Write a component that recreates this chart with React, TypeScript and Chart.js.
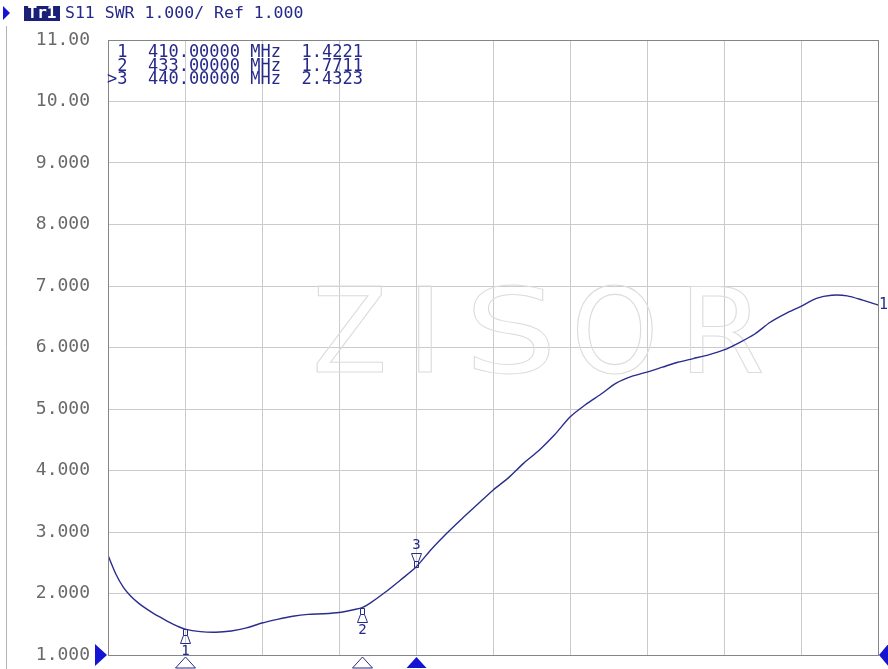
import React, { useEffect, useRef } from "react";
import { Chart, registerables } from "chart.js";

Chart.register(...registerables);

// ---- data ----
const freqMHz = [400,401,402,403,404,405,406,407,408,409,410,412,414,416,418,420,422,424,426,428,430,432,433,434,436,438,440,442,444,446,448,450,452,454,456,458,460,462,464,466,468,470,472,474,476,478,480,482,484,486,488,490,492,494,496,498,500];
const swrValues = [2.62,2.32,2.1,1.95,1.84,1.75,1.67,1.6,1.53,1.47,1.42,1.38,1.37,1.39,1.44,1.52,1.58,1.63,1.66,1.67,1.69,1.74,1.77,1.84,2.02,2.22,2.43,2.72,2.98,3.22,3.45,3.68,3.88,4.12,4.33,4.58,4.87,5.07,5.24,5.42,5.53,5.6,5.68,5.76,5.82,5.88,5.96,6.08,6.22,6.41,6.55,6.67,6.8,6.85,6.84,6.77,6.69];
const yTickValues = [1,2,3,4,5,6,7,8,9,10,11];
const yTickLabels = ["1.000","2.000","3.000","4.000","5.000","6.000","7.000","8.000","9.000","10.00","11.00"];
const markerIds = ["1","2","3"];
const markerFreq = [410, 433, 440];
const markerSwr = [1.4221, 1.7711, 2.4323];
const activeMarker = 2;
const headerTrace = "Tr1";
const headerText = "S11 SWR 1.000/ Ref 1.000";
const watermarkLetters = ["Z", "I", "S", "O", "R"];

const NAVY = "#26298a";
const BLUE = "#1414d2";
const MONO = '"DejaVu Sans Mono", "Liberation Mono", monospace';

// watermark letter boxes (pixel decoration, not data): left, right
const wmBoxes = [[317, 383], [418, 432], [473, 550], [577, 653], [690, 762]];

const decor = {
  id: "vnaDecor",
  beforeDatasetsDraw(chart: any) {
    const ctx = chart.ctx;
    ctx.save();
    ctx.font = '118px "DejaVu Sans"';
    ctx.strokeStyle = "#dcdcdc";
    ctx.textBaseline = "alphabetic";
    ctx.textAlign = "left";
    const base = 372;
    for (let i = 0; i < watermarkLetters.length; i++) {
      const m = ctx.measureText(watermarkLetters[i]);
      const inkL = -m.actualBoundingBoxLeft;
      const inkW = m.actualBoundingBoxRight + m.actualBoundingBoxLeft;
      const [l, r] = wmBoxes[i];
      const sx = (r - l) / inkW;
      ctx.save();
      ctx.translate(l, base);
      ctx.scale(sx, 1);
      ctx.lineWidth = 1.1 / sx;
      ctx.strokeText(watermarkLetters[i], -inkL, 0);
      ctx.restore();
    }
    ctx.restore();
  },
  afterDraw(chart: any) {
    const ctx = chart.ctx;
    const xs = chart.scales.x;
    const ys = chart.scales.y;
    const area = chart.chartArea;
    ctx.save();

    // outer frame line
    ctx.strokeStyle = "#b4b4b4";
    ctx.lineWidth = 1;
    ctx.beginPath();
    ctx.moveTo(6.5, 26);
    ctx.lineTo(6.5, 669);
    ctx.stroke();

    // plot frame
    ctx.strokeStyle = "#858585";
    ctx.strokeRect(area.left + 0.5, area.top + 0.5, area.right - area.left, area.bottom - area.top);

    // header
    ctx.fillStyle = BLUE;
    ctx.beginPath();
    ctx.moveTo(3, 6);
    ctx.lineTo(10, 13);
    ctx.lineTo(3, 20);
    ctx.closePath();
    ctx.fill();
    ctx.fillStyle = "#1a1f78";
    ctx.fillRect(24, 6, 36, 15);
    ctx.font = "bold 16px " + MONO;
    ctx.fillStyle = "#ffffff";
    ctx.textBaseline = "middle";
    ctx.textAlign = "center";
    ctx.fillText(headerTrace, 42, 14);
    ctx.textAlign = "left";
    ctx.font = "16.5px " + MONO;
    ctx.fillStyle = NAVY;
    ctx.fillText(headerText, 65, 14);

    // marker table
    ctx.font = "17px " + MONO;
    ctx.fillStyle = NAVY;
    for (let i = 0; i < markerIds.length; i++) {
      const prefix = i === activeMarker ? ">" : " ";
      const line = prefix + markerIds[i] + "  " + markerFreq[i].toFixed(5) + " MHz  " + markerSwr[i].toFixed(4);
      ctx.fillText(line, 107, 53 + i * 13.5);
    }

    // markers on trace
    ctx.lineWidth = 1;
    for (let i = 0; i < markerIds.length; i++) {
      const px = Math.round(xs.getPixelForValue(markerFreq[i])) + 0.5;
      const py = Math.round(ys.getPixelForValue(markerSwr[i])) + 0.5;
      ctx.strokeStyle = NAVY;
      ctx.fillStyle = NAVY;
      ctx.font = "14px " + MONO;
      ctx.textAlign = "center";
      ctx.textBaseline = "middle";
      const dir = i === activeMarker ? -1 : 1;
      ctx.beginPath();
      ctx.moveTo(px - 2, py);
      ctx.lineTo(px + 2, py);
      ctx.lineTo(px + 2, py + dir * 6);
      ctx.lineTo(px + 5, py + dir * 14);
      ctx.lineTo(px - 5, py + dir * 14);
      ctx.lineTo(px - 2, py + dir * 6);
      ctx.closePath();
      ctx.stroke();
      ctx.beginPath();
      ctx.moveTo(px - 2, py + dir * 6);
      ctx.lineTo(px + 2, py + dir * 6);
      ctx.stroke();
      ctx.fillText(markerIds[i], px, py + dir * 22);

      // bottom triangles
      const by = area.bottom;
      ctx.beginPath();
      ctx.moveTo(px, by + 2);
      ctx.lineTo(px - 10, by + 13);
      ctx.lineTo(px + 10, by + 13);
      ctx.closePath();
      if (i === activeMarker) {
        ctx.fillStyle = BLUE;
        ctx.fill();
      } else {
        ctx.fillStyle = "#ffffff";
        ctx.fill();
        ctx.strokeStyle = NAVY;
        ctx.stroke();
      }
    }

    // reference level triangles
    const refY = ys.getPixelForValue(1);
    ctx.fillStyle = BLUE;
    ctx.beginPath();
    ctx.moveTo(area.left - 13, refY - 11);
    ctx.lineTo(area.left - 1, refY);
    ctx.lineTo(area.left - 13, refY + 11);
    ctx.closePath();
    ctx.fill();
    ctx.beginPath();
    ctx.moveTo(area.right + 11, refY - 12);
    ctx.lineTo(area.right + 1, refY);
    ctx.lineTo(area.right + 11, refY + 12);
    ctx.closePath();
    ctx.fill();

    // trace end label
    ctx.fillStyle = NAVY;
    ctx.font = "15px " + MONO;
    ctx.textAlign = "left";
    ctx.textBaseline = "middle";
    ctx.fillText("1", area.right + 1, ys.getPixelForValue(swrValues[swrValues.length - 1]));

    ctx.restore();
  },
};

export default function App() {
  const ref = useRef<HTMLCanvasElement | null>(null);
  useEffect(() => {
    if (!ref.current) return;
    const chart = new Chart(ref.current, {
      type: "line",
      data: {
        datasets: [
          {
            data: freqMHz.map((f, i) => ({ x: f, y: swrValues[i] })),
            borderColor: "#2a2d8c",
            borderWidth: 1.4,
            pointRadius: 0,
            tension: 0.25,
            fill: false,
          },
        ],
      },
      options: {
        responsive: false,
        animation: false,
        events: [],
        layout: { padding: { top: 40, right: 10, left: 0, bottom: 14 } },
        plugins: { legend: { display: false }, tooltip: { enabled: false } },
        scales: {
          x: {
            type: "linear",
            min: 400,
            max: 500,
            ticks: { display: false, stepSize: 10 },
            grid: { color: "#cbcbcb", drawTicks: false, lineWidth: 1 },
            border: { display: false },
            afterFit: (s: any) => { s.height = 0; },
          },
          y: {
            type: "linear",
            min: 1,
            max: 11,
            afterBuildTicks: (s: any) => { s.ticks = yTickValues.map((v) => ({ value: v })); },
            ticks: {
              padding: 0,
              color: "#6a6a6a",
              font: { family: MONO, size: 18 },
              callback: (v: any) => yTickLabels[yTickValues.indexOf(Number(v))] ?? "",
            },
            grid: { color: "#cbcbcb", drawTicks: true, tickLength: 18, tickColor: "rgba(0,0,0,0)", lineWidth: 1 },
            border: { display: false },
            afterFit: (s: any) => { s.width = 108; },
          },
        },
      },
      plugins: [decor],
    } as any);
    return () => chart.destroy();
  }, []);
  return (
    <div style={{ position: "absolute", left: 0, top: 0, width: 888, height: 669, background: "#ffffff" }}>
      <canvas ref={ref} width={888} height={669} style={{ display: "block" }} />
    </div>
  );
}
